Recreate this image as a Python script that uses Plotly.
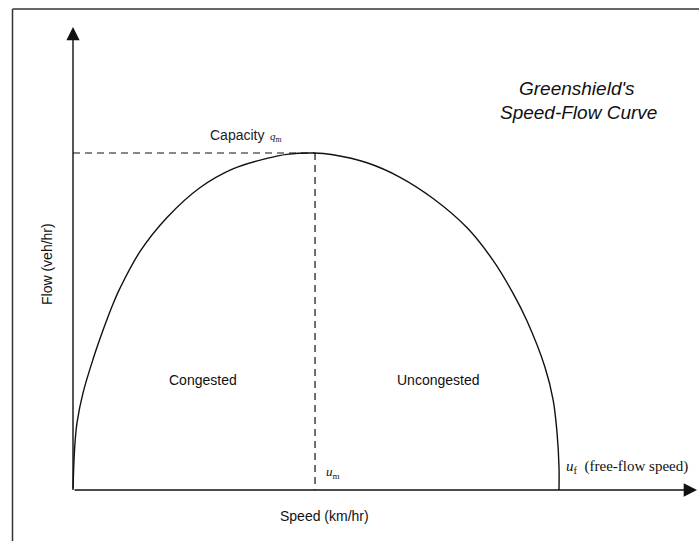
import plotly.graph_objects as go

# ---- data (speed in % of free-flow speed, flow in % of capacity)
speed_curve = [0, 0.21, 0.41, 0.82, 2.06, 4.12, 6.17, 8.23, 9.67, 13.8, 19.3, 26.1, 32.9,
               39.9, 44.0, 49.6, 53.5, 60.5, 67.3, 74.1, 81.1, 86.4, 90.5, 93.4, 97.1,
               98.8, 99.6, 100, 100]
flow_curve = [0, 8.9, 13.9, 19.9, 28.8, 38.8, 47.4, 55.2, 59.9, 70.8, 80.8, 89.7, 95.3,
              98.4, 99.6, 100, 99.5, 97.1, 92.8, 86.5, 77.8, 68.2, 58.5, 50.2, 36.5,
              26.7, 16.9, 6.8, 0]
u_m = 49.8      # speed at capacity
q_m = 100.0     # capacity
u_f = 100.0     # free-flow speed

# ---- layout geometry (pixels of the 699x541 canvas)
W, H = 699, 541
X0, XF = 73, 559          # pixel of speed 0 and speed u_f
Y0, YQ = 490, 153         # pixel of flow 0 and flow q_m
sx = (XF - X0) / u_f
sy = (Y0 - YQ) / q_m
xrange = [(0 - X0) / sx, (W - X0) / sx]
yrange = [(Y0 - H) / sy, (Y0 - 0) / sy]
x_tip = (697 - X0) / sx
y_tip = (Y0 - 27) / sy


def px(x):
    return x / W


def py(y):
    return 1 - y / H


SANS = "Arial, Liberation Sans, sans-serif"
SERIF = "Times New Roman, Liberation Serif, serif"
INK = "#111111"

fig = go.Figure()

# dashed guide lines to capacity point
fig.add_trace(go.Scatter(x=[0, u_m], y=[q_m, q_m], mode="lines",
                         line=dict(color=INK, width=1.2, dash="7px,5px"),
                         hoverinfo="skip", showlegend=False))
fig.add_trace(go.Scatter(x=[u_m, u_m], y=[q_m, 0], mode="lines",
                         line=dict(color=INK, width=1.2, dash="7px,5px"),
                         hoverinfo="skip", showlegend=False))

# speed-flow curve
fig.add_trace(go.Scatter(x=speed_curve, y=flow_curve, mode="lines",
                         line=dict(color=INK, width=1.4, shape="spline", smoothing=1.0),
                         hoverinfo="skip", showlegend=False))


def label(xp, yp, text, family=SANS, size=14, color=INK, xanchor="center", angle=0):
    return dict(x=px(xp), y=py(yp), xref="paper", yref="paper", text=text,
                xanchor=xanchor, yanchor="middle", textangle=angle, showarrow=False,
                font=dict(family=family, size=size, color=color))


annotations = [
    # axes with arrowheads
    dict(x=0, y=y_tip, ax=0, ay=0, xref="x", yref="y", axref="x", ayref="y",
         showarrow=True, arrowhead=2, arrowsize=1.9, arrowwidth=1.4, arrowcolor=INK, text=""),
    dict(x=x_tip, y=0, ax=0, ay=0, xref="x", yref="y", axref="x", ayref="y",
         showarrow=True, arrowhead=2, arrowsize=1.9, arrowwidth=1.4, arrowcolor=INK, text=""),
    # title
    label(577, 88, "<i>Greenshield's</i>", size=19),
    label(578, 113, "<i>Speed-Flow Curve</i>", size=19),
    # capacity label
    label(208, 135, "Capacity", size=14, color="#222222", xanchor="left"),
    label(268, 137, "<i>q</i><sub>m</sub>", family=SERIF, size=11, color="#222222",
          xanchor="left"),
    # regions
    label(203, 380, "Congested"),
    label(438, 380, "Uncongested"),
    # speed labels
    label(324, 472, "<i>u</i><sub>m</sub>", family=SERIF, size=13, xanchor="left"),
    label(564, 467, "<i>u</i><sub>f</sub>  (free-flow speed)", family=SERIF, size=15,
          xanchor="left"),
    # axis titles
    label(324, 516, "Speed (km/hr)"),
    label(47, 264, "Flow (veh/hr)", angle=-90),
]

shapes = [
    # outer frame (left and top edges)
    dict(type="line", xref="paper", yref="paper", x0=px(12.5), x1=px(12.5), y0=py(9), y1=0,
         line=dict(color="#333333", width=1.5)),
    dict(type="line", xref="paper", yref="paper", x0=px(12.5), x1=1, y0=py(9), y1=py(9),
         line=dict(color="#333333", width=1.5)),
]

fig.update_layout(
    width=W, height=H, autosize=False,
    margin=dict(l=0, r=0, t=0, b=0),
    paper_bgcolor="white", plot_bgcolor="white",
    xaxis=dict(range=xrange, visible=False, fixedrange=True),
    yaxis=dict(range=yrange, visible=False, fixedrange=True),
    annotations=annotations, shapes=shapes,
    showlegend=False,
)

fig.write_html("out.html", config={"displayModeBar": False},
               post_script="document.body.style.margin='0';document.body.style.overflow='hidden';")
